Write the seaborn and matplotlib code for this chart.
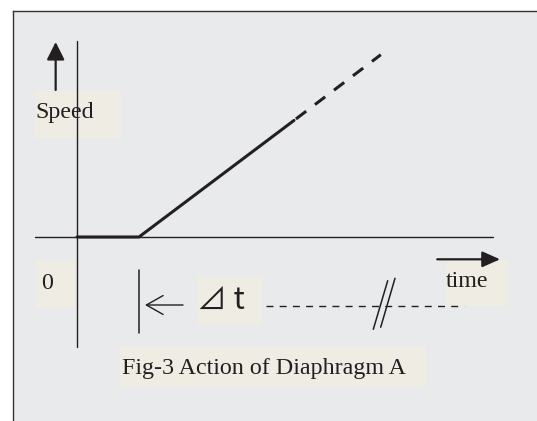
import numpy as np
import pandas as pd
import seaborn as sns
import matplotlib.pyplot as plt
from matplotlib.patches import Rectangle

# speed curve: flat until the delay t0, then a ramp (solid), then extrapolated (dashed)
time_solid = [0.0, 1.0, 3.5]
speed_solid = [0.0, 0.0, 1.88]
time_dashed = [3.5, 4.9]
speed_dashed = [1.88, 2.94]

speed_label = "Speed"
time_label = "time"
origin_label = "0"
delay_label = "⊿ t"
caption = "Fig-3 Action of Diaphragm A"

INK = "#231f20"
BG = "#e9eaec"
BOX = "#eeece3"

sns.set_theme(style="white")
plt.rcParams['font.family'] = ['Liberation Serif', 'DejaVu Serif']

fig = plt.figure(figsize=(5.37, 4.21), dpi=100)
fig.patch.set_facecolor("white")
# gray panel starts at px (13, 11) and runs off the right and bottom edges
ax = fig.add_axes([13 / 537, 0, 1 - 13 / 537, 1 - 11 / 421])
ax.set_facecolor(BG)
ax.set_xlim(-1.032, 7.419)
ax.set_ylim(-2.968, 3.645)
ax.set_xticks([])
ax.set_yticks([])
for side in ["right", "bottom"]:
    ax.spines[side].set_visible(False)
for side in ["left", "top"]:
    ax.spines[side].set_color("#333333")
    ax.spines[side].set_linewidth(1.0)

# label backgrounds
def box(x0, x1, y0, y1):
    ax.add_patch(Rectangle((x0, y0), x1 - x0, y1 - y0, facecolor=BOX,
                           edgecolor="none", zorder=1))

box(-0.677, 0.705, 1.602, 2.371)    # Speed
box(-0.666, -0.032, -1.150, -0.382)  # 0
box(1.940, 2.979, -1.419, -0.650)   # delta t
box(5.944, 6.944, -1.108, -0.382)   # time
box(0.694, 5.624, -2.415, -1.758)   # caption

# axes lines
ax.plot([0, 0], [-1.774, 3.161], color=INK, lw=1.0, zorder=3)
ax.plot([-0.677, 6.705], [0, 0], color=INK, lw=1.0, zorder=3)

# speed curve
df_solid = pd.DataFrame({"time": time_solid, "speed": speed_solid})
df_dashed = pd.DataFrame({"time": time_dashed, "speed": speed_dashed})
sns.lineplot(data=df_solid, x="time", y="speed", color=INK, lw=2.2,
             sort=False, ax=ax, zorder=4)
sns.lineplot(data=df_dashed, x="time", y="speed", color=INK, lw=2.2,
             sort=False, ax=ax, zorder=4, linestyle=(7.0, (4.2, 3.6)))
ax.set_xlabel("")
ax.set_ylabel("")

# axis arrows
ax.annotate("", xy=(-0.344, 3.145), xytext=(-0.344, 2.371),
            arrowprops=dict(arrowstyle="-|>,head_length=0.54,head_width=0.27",
                            mutation_scale=20, lw=1.6, color=INK,
                            shrinkA=0, shrinkB=0), zorder=5)
ax.annotate("", xy=(6.823, -0.36), xytext=(5.81, -0.36),
            arrowprops=dict(arrowstyle="-|>,head_length=0.54,head_width=0.24",
                            mutation_scale=20, lw=1.6, color=INK,
                            shrinkA=0, shrinkB=0), zorder=5)

# delay marker
ax.plot([1.0, 1.0], [-0.532, -1.553], color=INK, lw=1.1, zorder=3)
ax.annotate("", xy=(1.097, -1.097), xytext=(1.71, -1.097),
            arrowprops=dict(arrowstyle="->,head_length=0.6,head_width=0.34",
                            mutation_scale=20, lw=1.0, color=INK,
                            shrinkA=0, shrinkB=0), zorder=5)
ax.plot([3.048, 6.242], [-1.108, -1.108], color=INK, lw=1.0,
        linestyle=(0, (5, 4.5)), zorder=3)
ax.plot([4.779, 5.011], [-1.489, -0.705], color=INK, lw=1.1, zorder=3)
ax.plot([4.898, 5.129], [-1.456, -0.666], color=INK, lw=1.1, zorder=3)

# texts
fs = 17.3
ax.text(-0.666, 1.914, speed_label, fontsize=fs, color=INK, va="baseline", zorder=2)
ax.text(-0.585, -0.839, origin_label, fontsize=fs, color=INK, va="baseline", zorder=2)
ax.text(5.952, -0.805, time_label, fontsize=fs, color=INK, va="baseline", zorder=2)
ax.text(0.721, -2.215, caption, fontsize=fs, color=INK, va="baseline", zorder=2)
ax.text(1.94, -1.161, delay_label, fontsize=21.5, color=INK, va="baseline", zorder=2,
        family=['Noto Sans CJK JP', 'DejaVu Sans'])

fig.savefig("out.png", dpi=100, facecolor=fig.get_facecolor())
